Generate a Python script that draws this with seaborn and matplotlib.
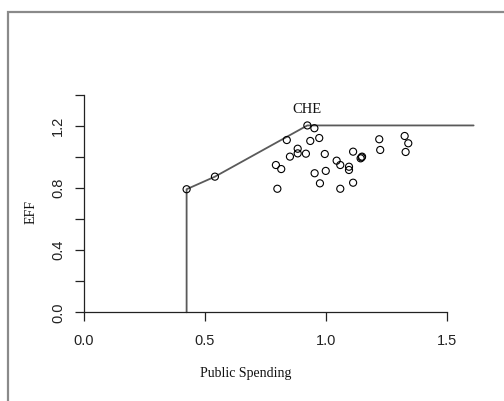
import matplotlib
matplotlib.use("Agg")
import matplotlib.pyplot as plt
import matplotlib.patches as mpatches
import seaborn as sns
import pandas as pd

# Data
spend = [0.424, 0.541, 0.923, 0.952, 0.838, 0.935, 0.972, 0.883, 0.883, 0.851,
         0.917, 0.995, 0.793, 0.815, 0.953, 0.999, 0.975, 0.799, 1.044, 1.059,
         1.112, 1.095, 1.095, 1.112, 1.059, 1.149, 1.143, 1.147, 1.220, 1.224,
         1.325, 1.340, 1.329]
eff = [0.793, 0.874, 1.204, 1.186, 1.110, 1.104, 1.123, 1.054, 1.024, 1.003,
       1.022, 1.020, 0.949, 0.923, 0.896, 0.911, 0.831, 0.796, 0.977, 0.949,
       1.035, 0.938, 0.917, 0.835, 0.796, 1.003, 0.992, 0.998, 1.115, 1.046,
       1.136, 1.089, 1.033]
front_x = [0.424, 0.424, 0.541, 0.923, 1.61]
front_y = [0.0, 0.793, 0.874, 1.204, 1.204]
label_name = "CHE"
label_x, label_y = 0.923, 1.204
x_ticks = [0.0, 0.5, 1.0, 1.5]
y_ticks = [0.0, 0.2, 0.4, 0.6, 0.8, 1.0, 1.2, 1.4]
y_ticklabels = ["0.0", "", "0.4", "", "0.8", "", "1.2", ""]

sns.set_style("white")
plt.rcParams["font.family"] = ["Liberation Sans", "DejaVu Sans"]

fig = plt.figure(figsize=(5.04, 4.01), dpi=100)
ax = fig.add_axes([84 / 504, 1 - 312.3 / 401, 396 / 504, (312.3 - 90) / 401])

pts = pd.DataFrame({"spend": spend, "eff": eff})
front = pd.DataFrame({"x": front_x, "y": front_y})

sns.lineplot(data=front, x="x", y="y", sort=False, estimator=None, ax=ax,
             color="#5a5a5a", linewidth=1.3, clip_on=False)
sns.scatterplot(data=pts, x="spend", y="eff", ax=ax, marker="o", s=26,
                facecolor="none", edgecolor="black", linewidth=0.8, zorder=3)

ax.text(label_x, label_y + 0.058, label_name, ha="center", va="bottom",
        fontsize=10.5, family=["Liberation Serif", "DejaVu Serif"], color="#111111")

ax.set_xlim(0, (480 - 84) / 242)
ax.set_ylim(0, (312.3 - 90) / 155.2)
ax.set_xticks(x_ticks)
ax.set_xticklabels([f"{v:.1f}" for v in x_ticks])
ax.set_yticks(y_ticks)
ax.set_yticklabels(y_ticklabels, rotation=90, va="center")

for s in ["top", "right"]:
    ax.spines[s].set_visible(False)
ax.spines["bottom"].set_bounds(0, 1.5)
ax.spines["left"].set_bounds(0, 1.4)
for s in ["bottom", "left"]:
    ax.spines[s].set_color("#222222")
    ax.spines[s].set_linewidth(0.9)

ax.tick_params(axis="both", direction="out", length=6.5, width=0.9,
               color="#222222", labelsize=10.5, labelcolor="#222222",
               bottom=True, left=True)
ax.tick_params(axis="x", pad=9)
ax.tick_params(axis="y", pad=7)

ax.set_xlabel("Public Spending", fontsize=10,
              family=["Liberation Serif", "DejaVu Serif"], color="#111111")
ax.set_ylabel("EFF", fontsize=10,
              family=["Liberation Serif", "DejaVu Serif"], color="#111111")
ax.xaxis.set_label_coords((246 - 84) / 396, -(367 - 312.3) / 222.3)
ax.yaxis.set_label_coords(-(84 - 38) / 396, (312.3 - 212) / 222.3)

# outer frame (gray border of the original device)
frame = mpatches.Rectangle((8 / 504, -0.2), 1.2, 1 - 12 / 401 + 0.2,
                           transform=fig.transFigure, fill=False,
                           edgecolor="#8a8a8a", linewidth=1.6, clip_on=False)
fig.patches.append(frame)

fig.savefig("out.png", dpi=100)
